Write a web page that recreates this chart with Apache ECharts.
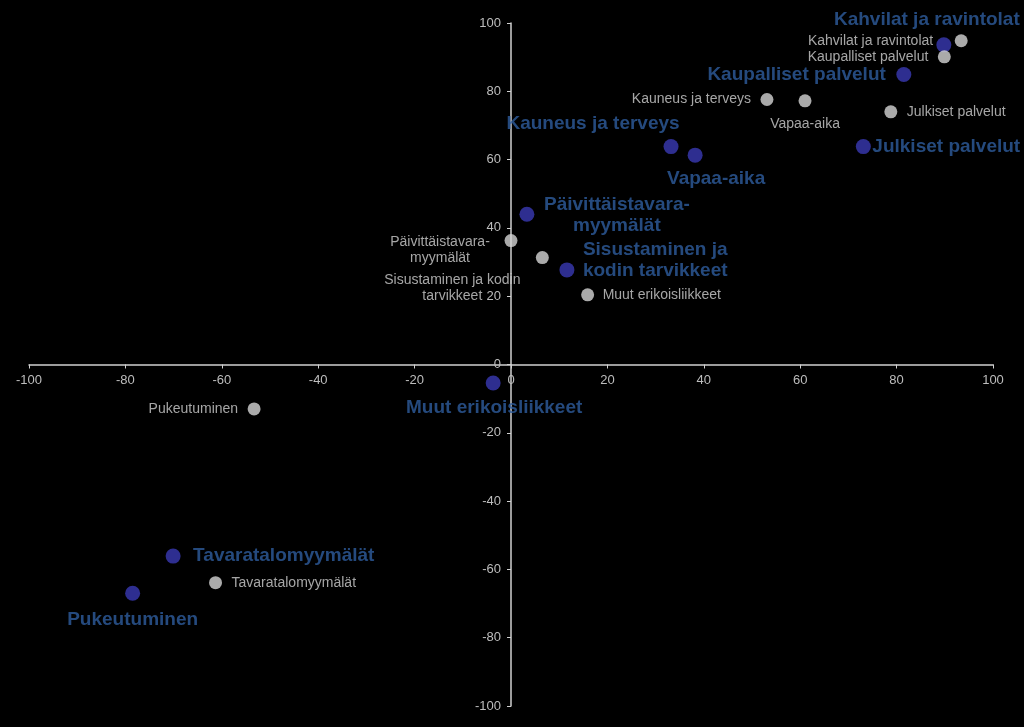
<!DOCTYPE html>
<html>
<head>
<meta charset="utf-8">
<script src="https://cdn.jsdelivr.net/npm/echarts@6/dist/echarts.min.js"></script>
<style>
html,body{margin:0;padding:0;background:#000;}
#chart{width:1024px;height:727px;}
</style>
</head>
<body>
<div id="chart"></div>
<script>
// Data
const categories = [
  'Kahvilat ja ravintolat', 'Kaupalliset palvelut', 'Julkiset palvelut',
  'Kauneus ja terveys', 'Vapaa-aika', 'Päivittäistavaramyymälät',
  'Sisustaminen ja kodin tarvikkeet', 'Muut erikoisliikkeet',
  'Tavaratalomyymälät', 'Pukeutuminen'
];
const blueLabels = [
  'Kahvilat ja ravintolat', 'Kaupalliset palvelut', 'Julkiset palvelut',
  'Kauneus ja terveys', 'Vapaa-aika', 'Päivittäistavara-\nmyymälät',
  'Sisustaminen ja\nkodin tarvikkeet', 'Muut erikoisliikkeet',
  'Tavaratalomyymälät', 'Pukeutuminen'
];
const greyLabels = [
  'Kahvilat ja ravintolat', 'Kaupalliset palvelut', 'Julkiset palvelut',
  'Kauneus ja terveys', 'Vapaa-aika', 'Päivittäistavara-\nmyymälät',
  'Sisustaminen ja kodin\ntarvikkeet', 'Muut erikoisliikkeet',
  'Tavaratalomyymälät', 'Pukeutuminen'
];
const blueX = [89.8, 81.5, 73.1, 33.2, 38.2, 3.3, 11.6, -3.7, -70.1, -78.5];
const blueY = [93.6, 84.9, 63.8, 63.8, 61.3, 44.0, 27.7, -5.4, -56.1, -67.0];
const greyX = [93.4, 89.9, 78.8, 53.1, 61.0, 0.0, 6.5, 15.9, -61.3, -53.3];
const greyY = [94.8, 90.1, 74.0, 77.6, 77.2, 36.3, 31.3, 20.4, -63.9, -13.0];
const axisMin = -100, axisMax = 100, axisInterval = 20;

// Label layout (styling only): [align, offsetX, offsetY]
const blueLabelLayout = [
  ['center', -17, -25], ['right', -18, 0], ['left', 9, 0],
  ['center', -78, -23], ['center', 21, 24], ['center', 90, 1],
  ['left', 16, -10], ['center', 1, 25], ['left', 20, 0], ['center', 0, 26]
];
const greyLabelLayout = [
  ['right', -28, 0], ['right', -16, 0], ['left', 16, 0],
  ['right', -16, 0], ['center', 0, 23], ['center', -71, 10],
  ['center', -90, 31], ['left', 15, 0], ['left', 16, 0], ['right', -16, 0]
];

const FONT = '"Liberation Sans", Arial, sans-serif';

function buildData(xs, ys, labels, layout, style) {
  return xs.map((x, i) => ({
    name: categories[i],
    value: [x, ys[i]],
    label: {
      show: true,
      position: 'inside',
      formatter: labels[i],
      align: layout[i][0],
      verticalAlign: 'middle',
      offset: [layout[i][1], layout[i][2]],
      color: style.color,
      fontSize: style.fontSize,
      fontWeight: style.fontWeight,
      fontFamily: FONT,
      lineHeight: style.lineHeight,
      textBorderWidth: 0
    }
  }));
}

const W = 1024, H = 727;
const grid = { left: 29, right: 31, top: 23, bottom: 21 };
const gridW = W - grid.left - grid.right;
const gridH = H - grid.top - grid.bottom;

const chart = echarts.init(document.getElementById('chart'));
const axisCommon = {
  type: 'value',
  min: axisMin, max: axisMax, interval: axisInterval,
  splitLine: { show: false },
  axisLine: { onZero: false, lineStyle: { color: '#d0d0d0', width: 1.5 } },
  axisTick: { show: true, length: 4, lineStyle: { color: '#d0d0d0' } },
  axisLabel: { color: '#bdbdbd', fontSize: 13, fontFamily: FONT }
};
chart.setOption({
  backgroundColor: '#000000',
  animation: false,
  grid: Object.assign({ containLabel: false }, grid),
  xAxis: Object.assign({}, axisCommon, {
    position: 'bottom',
    offset: -gridH / 2,
    axisLabel: Object.assign({}, axisCommon.axisLabel, { margin: 9 })
  }),
  yAxis: Object.assign({}, axisCommon, {
    position: 'left',
    offset: -gridW / 2,
    axisLabel: Object.assign({}, axisCommon.axisLabel, { margin: 10 })
  }),
  series: [
    {
      type: 'scatter',
      symbolSize: 15,
      itemStyle: { color: '#3a3ab4' },
      data: buildData(blueX, blueY, blueLabels, blueLabelLayout,
        { color: '#2e5c9e', fontSize: 19, fontWeight: 'bold', lineHeight: 21 }),
      z: 2
    },
    {
      type: 'scatter',
      symbolSize: 13,
      itemStyle: { color: '#d4d4d4' },
      data: buildData(greyX, greyY, greyLabels, greyLabelLayout,
        { color: '#cfcfcf', fontSize: 14, fontWeight: 'normal', lineHeight: 16 }),
      z: 3
    }
  ]
});
</script>
</body>
</html>
